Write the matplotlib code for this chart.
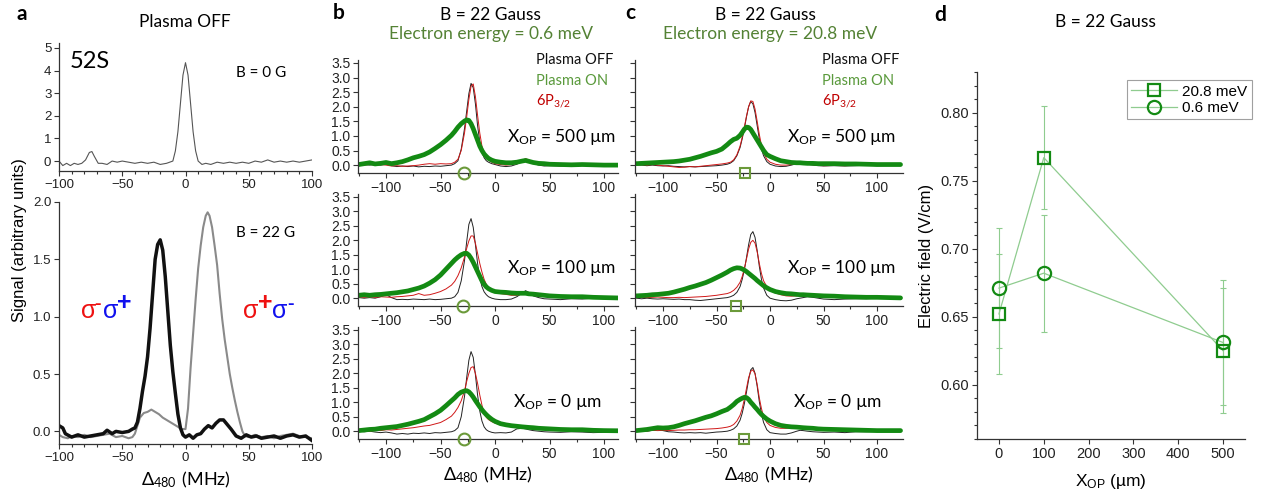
import numpy as np
import matplotlib
matplotlib.use("Agg")
import matplotlib.pyplot as plt
from matplotlib.ticker import MultipleLocator, FormatStrFormatter
from matplotlib.lines import Line2D

plt.rcParams['font.family'] = ['Liberation Sans', 'DejaVu Sans']
plt.rcParams['mathtext.default'] = 'regular'
CAL = ['Lato', 'DejaVu Sans']

# ---- panel a : 52S, plasma off ----
a0_x = [-100, -97, -94, -91, -88, -85, -82, -79, -76, -74, -72, -69, -66, -62, -58, -54, -50, -45,
        -40, -35, -30, -25, -20, -15, -10, -8, -6, -4, -2, 0, 2, 4, 6, 8, 10, 13, 16, 20, 25, 30,
        35, 40, 45, 50, 55, 60, 65, 70, 75, 80, 85, 90, 95, 100]
a0_y = [0.0, -0.2, -0.1, -0.2, -0.1, -0.15, -0.1, 0.05, 0.38, 0.42, 0.2, -0.1, -0.1, -0.15, 0.0,
        -0.05, 0.0, -0.05, -0.1, -0.05, -0.1, -0.05, -0.15, -0.1, 0.0, 0.45, 1.3, 2.55, 3.8, 4.35,
        3.8, 2.55, 1.3, 0.45, 0.0, -0.15, -0.1, -0.15, -0.05, -0.1, -0.05, -0.1, -0.05, -0.1, 0.0,
        -0.05, 0.05, -0.05, 0.0, -0.05, 0.0, -0.05, 0.0, 0.05]

a1_x_black = [-100, -97, -95, -90, -85, -80, -75, -70, -65, -62, -58, -55, -50, -45, -42, -40, -38,
              -36, -34, -32, -30, -28, -26, -24, -22, -20, -18, -16, -14, -12, -10, -8, -6, -4, -2,
              0, 3, 6, 9, 12, 15, 18, 21, 24, 27, 30, 33, 36, 40, 44, 48, 52, 56, 60, 65, 70, 75,
              80, 85, 90, 95, 100]
a1_y_black = [0.05, 0.03, -0.02, -0.05, -0.03, -0.05, -0.04, -0.03, -0.02, 0.01, -0.02, 0.0, -0.01,
              0.0, 0.02, 0.03, 0.08, 0.2, 0.35, 0.48, 0.65, 0.9, 1.2, 1.5, 1.63, 1.67, 1.58, 1.35,
              1.05, 0.75, 0.52, 0.33, 0.15, 0.03, -0.03, -0.05, -0.03, -0.06, -0.03, -0.02, 0.02,
              0.05, 0.03, 0.07, 0.1, 0.1, 0.06, 0.02, -0.04, -0.06, -0.03, -0.05, -0.04, -0.06,
              -0.05, -0.04, -0.06, -0.04, -0.03, -0.05, -0.04, -0.08]
a1_x_gray = [-100, -97, -93, -90, -85, -80, -75, -70, -65, -60, -55, -50, -45, -42, -40, -38, -36,
             -33, -30, -27, -24, -21, -18, -15, -12, -9, -6, -3, 0, 2, 4, 6, 8, 10, 12, 14, 16,
             17.5, 19, 21, 23, 25, 27, 29, 31, 33, 35, 37, 39, 41, 43, 45, 47, 50, 55, 60, 65, 70,
             75, 80, 85, 90, 95, 100]
a1_y_gray = [-0.03, -0.05, -0.06, -0.04, -0.05, -0.03, -0.05, -0.04, -0.03, -0.02, -0.05, -0.04,
             -0.06, -0.05, -0.02, 0.05, 0.12, 0.16, 0.17, 0.19, 0.17, 0.15, 0.12, 0.1, 0.08, 0.06,
             0.04, 0.02, 0.02, 0.2, 0.55, 0.85, 1.15, 1.42, 1.62, 1.78, 1.88, 1.91, 1.88, 1.78,
             1.62, 1.45, 1.2, 0.98, 0.8, 0.65, 0.5, 0.38, 0.27, 0.17, 0.08, 0.0, -0.04, -0.05,
             -0.03, -0.05, -0.04, -0.06, -0.04, -0.03, -0.02, -0.04, -0.05, -0.06]

# ---- panels b, c : detuning grid shared by all traces ----
F = [-125, -120, -115, -110, -105, -100, -95, -90, -85, -80, -75, -70, -65, -60, -55, -50, -45, -40,
     -37, -34, -31, -28, -26, -24, -22, -20, -18, -16, -14, -12, -10, -8, -6, -3, 0, 5, 10, 15, 20,
     25, 28, 31, 35, 40, 45, 50, 60, 70, 80, 90, 100, 122]

# electron energy 0.6 meV
b500_off = [0.0, 0.02, 0.0, 0.03, 0.0, 0.04, -0.02, -0.05, -0.03, -0.05, -0.03, -0.06, -0.04, -0.05, -0.03, -0.04, -0.02, 0.0, 0.05, 0.15,
            0.55, 1.25, 1.85, 2.45, 2.8, 2.65, 2.1, 1.35, 0.8, 0.45, 0.25, 0.15, 0.1, 0.05, 0.02, -0.03, -0.05, -0.03, 0.03, 0.14,
            0.2, 0.15, 0.06, 0.0, -0.03, -0.02, -0.03, -0.02, 0.0, -0.02, 0.0, 0.0]
b500_6p = [0.02, 0.0, 0.03, 0.0, 0.02, 0.0, -0.03, -0.02, -0.04, -0.03, -0.02, 0.0, 0.03, 0.05, 0.03, 0.05, 0.04, 0.05, 0.1, 0.2,
           0.5, 1.1, 1.65, 2.25, 2.7, 2.78, 2.35, 1.7, 1.1, 0.65, 0.4, 0.25, 0.17, 0.1, 0.05, 0.02, 0.0, 0.02, 0.06, 0.16,
           0.22, 0.18, 0.08, 0.03, 0.0, 0.0, -0.02, 0.0, 0.0, -0.02, 0.0, 0.0]
b500_on = [0.02, 0.05, 0.08, 0.04, 0.06, 0.09, 0.05, 0.08, 0.12, 0.18, 0.25, 0.3, 0.36, 0.45, 0.57, 0.7, 0.85, 1.02, 1.15, 1.3,
           1.42, 1.51, 1.55, 1.53, 1.42, 1.25, 1.05, 0.85, 0.65, 0.5, 0.38, 0.3, 0.23, 0.17, 0.13, 0.1, 0.08, 0.08, 0.1, 0.14,
           0.16, 0.13, 0.09, 0.06, 0.05, 0.03, 0.02, 0.01, 0.02, 0.01, 0.0, 0.0]
b100_off = [0.02, 0.0, 0.02, 0.0, 0.05, 0.12, 0.02, -0.05, -0.04, -0.05, -0.03, -0.04, -0.05, -0.03, -0.05, -0.04, -0.02, 0.0, 0.05, 0.2,
            0.6, 1.3, 1.95, 2.55, 2.75, 2.45, 1.85, 1.2, 0.7, 0.4, 0.22, 0.12, 0.05, 0.0, -0.03, -0.05, -0.05, -0.03, 0.05, 0.18,
            0.26, 0.2, 0.08, 0.02, -0.02, -0.03, -0.05, -0.02, -0.03, 0.0, -0.02, 0.0]
b100_6p = [0.05, 0.03, 0.05, 0.03, 0.05, 0.04, 0.03, 0.05, 0.06, 0.08, 0.1, 0.16, 0.1, 0.12, 0.17, 0.23, 0.32, 0.45, 0.58, 0.78,
           1.05, 1.42, 1.72, 1.98, 2.15, 2.15, 1.9, 1.55, 1.2, 0.9, 0.65, 0.48, 0.38, 0.28, 0.22, 0.16, 0.13, 0.1, 0.1, 0.15,
           0.2, 0.17, 0.12, 0.09, 0.07, 0.06, 0.05, 0.04, 0.03, 0.02, 0.01, 0.0]
b100_on = [0.1, 0.12, 0.1, 0.12, 0.13, 0.15, 0.17, 0.19, 0.22, 0.25, 0.3, 0.35, 0.42, 0.52, 0.64, 0.8, 1.0, 1.2, 1.32, 1.42,
           1.5, 1.55, 1.55, 1.49, 1.38, 1.24, 1.08, 0.92, 0.76, 0.6, 0.48, 0.39, 0.33, 0.27, 0.23, 0.21, 0.2, 0.18, 0.17, 0.17,
           0.17, 0.15, 0.14, 0.12, 0.1, 0.08, 0.06, 0.05, 0.05, 0.03, 0.02, 0.0]
b0_off = [0.0, -0.02, 0.0, -0.03, -0.05, -0.03, -0.06, -0.1, -0.08, -0.1, -0.07, -0.08, -0.06, -0.08, -0.05, -0.06, -0.04, -0.02, 0.02, 0.12,
          0.5, 1.2, 1.85, 2.45, 2.75, 2.55, 1.95, 1.25, 0.7, 0.35, 0.15, 0.05, 0.0, -0.04, -0.06, -0.05, -0.06, -0.03, 0.08, 0.1,
          0.08, 0.05, 0.02, 0.0, -0.02, -0.03, -0.04, -0.02, -0.03, -0.05, -0.04, -0.05]
b0_6p = [0.0, 0.02, 0.0, 0.03, 0.02, 0.05, 0.04, 0.06, 0.08, 0.1, 0.12, 0.15, 0.18, 0.2, 0.25, 0.3, 0.4, 0.52, 0.65, 0.82,
         1.05, 1.4, 1.72, 2.0, 2.2, 2.23, 2.0, 1.65, 1.25, 0.9, 0.62, 0.48, 0.4, 0.33, 0.28, 0.22, 0.2, 0.18, 0.17, 0.16,
         0.15, 0.13, 0.12, 0.1, 0.08, 0.07, 0.05, 0.04, 0.03, 0.02, 0.01, 0.0]
b0_on = [0.02, 0.04, 0.06, 0.07, 0.1, 0.12, 0.14, 0.16, 0.2, 0.24, 0.29, 0.34, 0.4, 0.5, 0.6, 0.72, 0.88, 1.05, 1.15, 1.27,
         1.35, 1.39, 1.4, 1.36, 1.28, 1.18, 1.06, 0.95, 0.84, 0.74, 0.65, 0.57, 0.5, 0.41, 0.34, 0.26, 0.22, 0.19, 0.17, 0.15,
         0.14, 0.13, 0.12, 0.1, 0.09, 0.08, 0.06, 0.05, 0.05, 0.03, 0.02, 0.01]

# electron energy 20.8 meV
c500_off = [0.0, 0.0, -0.02, 0.0, -0.02, -0.03, -0.02, -0.04, -0.05, -0.06, -0.05, -0.06, -0.05, -0.04, -0.03, -0.02, 0.0, 0.03, 0.07, 0.15,
            0.32, 0.6, 0.9, 1.25, 1.65, 2.0, 2.18, 2.1, 1.8, 1.35, 0.9, 0.55, 0.32, 0.12, 0.03, -0.03, -0.05, -0.04, 0.0, 0.05,
            0.07, 0.06, 0.03, 0.0, -0.02, -0.03, -0.02, -0.03, -0.02, 0.0, -0.02, 0.0]
c500_6p = [0.0, 0.02, 0.0, 0.02, 0.0, -0.02, -0.04, -0.06, -0.08, -0.07, -0.05, -0.06, -0.04, -0.02, 0.0, 0.02, 0.04, 0.07, 0.1, 0.18,
           0.35, 0.65, 0.95, 1.3, 1.68, 2.0, 2.2, 2.18, 1.92, 1.5, 1.05, 0.68, 0.42, 0.2, 0.1, 0.03, 0.0, 0.0, 0.02, 0.06,
           0.08, 0.07, 0.05, 0.02, 0.0, -0.02, -0.01, -0.02, 0.0, -0.01, 0.0, 0.0]
c500_on = [0.05, 0.06, 0.07, 0.08, 0.09, 0.1, 0.11, 0.12, 0.14, 0.17, 0.2, 0.25, 0.3, 0.36, 0.42, 0.47, 0.55, 0.7, 0.8, 0.88,
           0.92, 1.02, 1.12, 1.23, 1.3, 1.29, 1.22, 1.1, 0.98, 0.86, 0.74, 0.62, 0.5, 0.36, 0.3, 0.22, 0.15, 0.12, 0.09, 0.08,
           0.08, 0.07, 0.06, 0.06, 0.05, 0.05, 0.05, 0.04, 0.04, 0.03, 0.02, 0.02]
c100_off = [0.0, -0.02, 0.0, -0.02, -0.03, -0.02, -0.03, -0.04, -0.03, -0.05, -0.05, -0.07, -0.08, -0.06, -0.04, -0.02, 0.0, 0.02, 0.05, 0.1,
            0.2, 0.4, 0.65, 0.98, 1.4, 1.85, 2.2, 2.3, 2.1, 1.65, 1.1, 0.65, 0.35, 0.1, 0.0, -0.05, -0.08, -0.09, -0.07, -0.02,
            0.0, 0.02, 0.05, 0.03, 0.0, -0.03, -0.05, -0.03, -0.02, -0.02, 0.0, 0.0]
c100_6p = [0.02, 0.03, 0.02, 0.03, 0.04, 0.03, 0.02, 0.02, 0.03, 0.02, 0.03, 0.04, 0.05, 0.06, 0.08, 0.1, 0.13, 0.16, 0.2, 0.27,
           0.38, 0.55, 0.75, 1.02, 1.35, 1.7, 1.93, 2.0, 1.9, 1.6, 1.2, 0.85, 0.6, 0.4, 0.28, 0.18, 0.12, 0.08, 0.07, 0.08,
           0.1, 0.12, 0.13, 0.1, 0.07, 0.05, 0.03, 0.02, 0.02, 0.01, 0.0, 0.0]
c100_on = [0.08, 0.09, 0.1, 0.12, 0.13, 0.15, 0.17, 0.21, 0.26, 0.31, 0.37, 0.42, 0.48, 0.54, 0.62, 0.71, 0.8, 0.9, 0.97, 1.02,
           1.05, 1.04, 1.01, 0.97, 0.92, 0.86, 0.8, 0.74, 0.68, 0.61, 0.55, 0.49, 0.43, 0.36, 0.3, 0.23, 0.19, 0.16, 0.15, 0.13,
           0.12, 0.12, 0.11, 0.1, 0.09, 0.08, 0.07, 0.05, 0.04, 0.03, 0.03, 0.01]
c0_off = [0.0, 0.02, 0.0, 0.03, 0.05, 0.02, -0.02, -0.03, -0.05, -0.06, -0.05, -0.06, -0.05, -0.07, -0.05, -0.03, -0.02, 0.0, 0.03, 0.08,
          0.18, 0.38, 0.62, 0.95, 1.35, 1.78, 2.12, 2.2, 2.0, 1.55, 1.02, 0.6, 0.3, 0.05, -0.05, -0.08, -0.1, -0.1, -0.06, 0.0,
          0.03, 0.02, 0.0, -0.02, -0.03, -0.04, -0.03, -0.05, -0.02, -0.02, -0.01, 0.0]
c0_6p = [0.0, 0.02, 0.01, 0.03, 0.02, 0.03, 0.02, 0.03, 0.04, 0.04, 0.05, 0.05, 0.06, 0.07, 0.08, 0.09, 0.11, 0.14, 0.17, 0.23,
         0.35, 0.55, 0.78, 1.1, 1.48, 1.85, 2.07, 2.12, 1.98, 1.62, 1.15, 0.78, 0.5, 0.3, 0.2, 0.13, 0.1, 0.1, 0.11, 0.13,
         0.15, 0.14, 0.11, 0.08, 0.06, 0.05, 0.03, 0.02, 0.01, 0.01, 0.0, 0.0]
c0_on = [0.02, 0.04, 0.06, 0.09, 0.12, 0.11, 0.12, 0.15, 0.2, 0.26, 0.31, 0.36, 0.42, 0.48, 0.53, 0.6, 0.68, 0.75, 0.83, 0.92,
         1.03, 1.1, 1.14, 1.17, 1.16, 1.1, 1.0, 0.92, 0.83, 0.75, 0.66, 0.58, 0.51, 0.42, 0.35, 0.26, 0.2, 0.17, 0.15, 0.14,
         0.13, 0.12, 0.11, 0.1, 0.08, 0.07, 0.06, 0.05, 0.04, 0.03, 0.02, 0.02]

# fitted line centres (open markers on the axis), rows: X_OP = 500, 100, 0
b_centres = [-28.5, -29.0, -28.5]
c_centres = [-23.5, -32.0, -24.0]
xop_labels = ["500", "100", "0"]

# ---- panel d : electric field ----
xop = [0, 100, 500]
E_208 = [0.652, 0.767, 0.625]
E_208_err = [0.044, 0.038, 0.046]
E_06 = [0.671, 0.682, 0.631]
E_06_err = [0.044, 0.043, 0.046]

GREEN = '#138a13'
OLIVE = '#548235'
LEG_GREEN = '#5a9a3c'
LIGHT = '#8fcc8f'
RED = '#d01818'
S_RED = '#ee1111'
S_BLUE = '#1111ee'

W, H = 1263, 499
fig = plt.figure(figsize=(W / 100, H / 100), dpi=100)


def box(x0, y0, x1, y1):
    return [x0 / W, 1 - y1 / H, (x1 - x0) / W, (y1 - y0) / H]


def ftext(x, y, s, **kw):
    fig.text(x / W, 1 - y / H, s, **kw)


def style(ax, size=9.5):
    for s in ['top', 'right']:
        ax.spines[s].set_visible(False)
    for s in ['left', 'bottom']:
        ax.spines[s].set_color('#333333')
        ax.spines[s].set_linewidth(0.9)
    ax.tick_params(which='both', direction='out', colors='#333333', labelcolor='#222222',
                   labelsize=size, width=0.8, pad=2)
    ax.tick_params(which='major', length=3.5)
    ax.tick_params(which='minor', length=2)


# panel a
axa0 = fig.add_axes(box(59, 43, 312, 171))
style(axa0)
axa0.plot(a0_x, a0_y, color='#555555', lw=0.8)
axa0.set_xlim(-100, 100)
axa0.set_ylim(-0.44, 5.22)
axa0.xaxis.set_major_locator(MultipleLocator(50))
axa0.xaxis.set_minor_locator(MultipleLocator(10))
axa0.yaxis.set_major_locator(MultipleLocator(1))
axa0.text(-91.5, 4.38, '52S', fontsize=17, family=CAL, va='center')
axa0.text(40, 3.9, 'B = 0 G', fontsize=11, family=CAL, va='center')

axa1 = fig.add_axes(box(59, 202, 312, 444))
style(axa1)
axa1.plot(a1_x_gray, a1_y_gray, color='#8a8a8a', lw=1.5)
axa1.plot(a1_x_black, a1_y_black, color='#111111', lw=2.5)
axa1.set_xlim(-100, 100)
axa1.set_ylim(-0.11, 2.0)
axa1.xaxis.set_major_locator(MultipleLocator(50))
axa1.xaxis.set_minor_locator(MultipleLocator(10))
axa1.yaxis.set_major_locator(MultipleLocator(0.5))
axa1.yaxis.set_major_formatter(FormatStrFormatter('%.1f'))
axa1.text(40, 1.73, 'B = 22 G', fontsize=11, family=CAL, va='center')
# polarisation labels: sigma glyphs with hand-placed superscripts
sig = dict(fontsize=18, va='baseline', ha='left')
sup = dict(va='center', ha='center', weight='bold')
axa1.text(-82.6, 0.99, 'σ', color=S_RED, **sig)
axa1.text(-69.2, 1.11, '-', color=S_RED, fontsize=14, **sup)
axa1.text(-65.5, 0.99, 'σ', color=S_BLUE, **sig)
axa1.text(-48.6, 1.12, '+', color=S_BLUE, fontsize=18, **sup)
axa1.text(45.5, 0.99, 'σ', color=S_RED, **sig)
axa1.text(62.8, 1.12, '+', color=S_RED, fontsize=18, **sup)
axa1.text(68.4, 0.99, 'σ', color=S_BLUE, **sig)
axa1.text(83.0, 1.11, '-', color=S_BLUE, fontsize=14, **sup)
axa1.set_xlabel(r'$\Delta\mathregular{_{480}\ (MHz)}$', fontsize=13, family=CAL, labelpad=4)

ftext(20, 240, 'Signal (arbitrary units)', fontsize=12, rotation=90, ha='center', va='center')
ftext(22, 14, 'a', fontsize=15, weight='bold', family=CAL, ha='center', va='center')
ftext(185, 22, 'Plasma OFF', fontsize=12.5, family=CAL, ha='center', va='center')

# panels b and c
rows = [(60, 173), (194, 306), (327, 439)]
b_sets = [(b500_off, b500_6p, b500_on), (b100_off, b100_6p, b100_on), (b0_off, b0_6p, b0_on)]
c_sets = [(c500_off, c500_6p, c500_on), (c100_off, c100_6p, c100_on), (c0_off, c0_6p, c0_on)]
panels = [
    dict(x0=358, x1=618, xlim=(-125.7, 112.8), sets=b_sets, centres=b_centres, marker='o', ms=8.5,
         labels=True, leg_x=536, xop_x=[507, 507, 513]),
    dict(x0=635, x1=903, xlim=(-126.2, 124.3), sets=c_sets, centres=c_centres, marker='s', ms=7,
         labels=False, leg_x=822, xop_x=[787, 787, 793]),
]
xop_y = [137, 268, 402]
for p in panels:
    for i, (y0, y1) in enumerate(rows):
        ax = fig.add_axes(box(p['x0'], y0, p['x1'], y1))
        style(ax, 10)
        off, p6, on = p['sets'][i]
        ax.plot(F, off, color='#222222', lw=0.7)
        ax.plot(F, p6, color=RED, lw=0.7)
        ax.plot(F, on, color=GREEN, lw=3.4, solid_capstyle='round')
        ax.set_xlim(*p['xlim'])
        ax.set_ylim(-0.27, 3.6)
        ax.plot([p['centres'][i]], [-0.27], marker=p['marker'], ms=p['ms'], mfc='none',
                mec='#6b9a3a', mew=1.5, clip_on=False, zorder=5)
        ax.xaxis.set_major_locator(MultipleLocator(50))
        ax.xaxis.set_minor_locator(MultipleLocator(25))
        ax.yaxis.set_major_locator(MultipleLocator(0.5))
        ax.yaxis.set_major_formatter(FormatStrFormatter('%.1f'))
        if not p['labels']:
            ax.tick_params(labelleft=False)
        ftext(p['xop_x'][i], xop_y[i],
              r'$\mathregular{X_{OP}}$ = ' + xop_labels[i] + ' µm',
              fontsize=12.5, family=CAL, va='center')
        if i == 2:
            ax.set_xlabel(r'$\Delta\mathregular{_{480}\ (MHz)}$', fontsize=13, family=CAL, labelpad=3)
    ftext(p['leg_x'], 60, 'Plasma OFF', fontsize=10.5, family=CAL, va='center', color='#111111')
    ftext(p['leg_x'], 81, 'Plasma ON', fontsize=10.5, family=CAL, va='center', color=LEG_GREEN)
    ftext(p['leg_x'], 101, r'6P$\mathregular{_{3/2}}$', fontsize=10.5, family=CAL, va='center', color='#c00000')

ftext(339, 13, 'b', fontsize=15, weight='bold', family=CAL, ha='center', va='center')
ftext(490, 15, 'B = 22 Gauss', fontsize=12.5, family=CAL, ha='center', va='center')
ftext(491, 34, 'Electron energy = 0.6 meV', fontsize=12.5, family=CAL, ha='center', va='center', color=OLIVE)
ftext(630, 13, 'c', fontsize=15, weight='bold', family=CAL, ha='center', va='center')
ftext(765, 15, 'B = 22 Gauss', fontsize=12.5, family=CAL, ha='center', va='center')
ftext(770, 34, 'Electron energy = 20.8 meV', fontsize=12.5, family=CAL, ha='center', va='center', color=OLIVE)

# panel d
axd = fig.add_axes(box(977, 72, 1245, 439))
style(axd, 10.5)
axd.errorbar(xop, E_208, yerr=E_208_err, fmt='none', ecolor=LIGHT, elinewidth=0.8, capsize=2.5, capthick=0.8)
axd.errorbar(xop, E_06, yerr=E_06_err, fmt='none', ecolor=LIGHT, elinewidth=0.8, capsize=2.5, capthick=0.8)
axd.plot(xop, E_208, color=LIGHT, lw=0.9, marker='s', ms=8.5, mfc='none', mec=GREEN, mew=1.6)
axd.plot(xop, E_06, color=LIGHT, lw=0.9, marker='o', ms=9.5, mfc='none', mec=GREEN, mew=1.6)
axd.set_xlim(-49, 549)
axd.set_ylim(0.56, 0.83)
axd.xaxis.set_major_locator(MultipleLocator(100))
axd.yaxis.set_major_locator(MultipleLocator(0.05))
axd.yaxis.set_minor_locator(MultipleLocator(0.01))
axd.yaxis.set_major_formatter(FormatStrFormatter('%.2f'))
axd.set_ylabel('Electric field (V/cm)', fontsize=12, labelpad=5)
axd.set_xlabel(r'$\mathregular{X_{OP}}$ (µm)', fontsize=12.5, labelpad=8)
handles = [Line2D([], [], color=LIGHT, lw=0.9, marker='s', ms=8.5, mfc='none', mec=GREEN, mew=1.6),
           Line2D([], [], color=LIGHT, lw=0.9, marker='o', ms=9.5, mfc='none', mec=GREEN, mew=1.6)]
leg = axd.legend(handles, ['20.8 meV', '0.6 meV'], loc='upper right', bbox_to_anchor=(1252 / W, 1 - 80 / H),
                 bbox_transform=fig.transFigure, fontsize=11, frameon=True, fancybox=False,
                 borderaxespad=0, handlelength=3.0, handletextpad=0.35, borderpad=0.3, labelspacing=0.15)
leg.get_frame().set_edgecolor('#888888')
leg.get_frame().set_linewidth(0.8)

ftext(940, 15, 'd', fontsize=15, weight='bold', family=CAL, ha='center', va='center')
ftext(1105, 22, 'B = 22 Gauss', fontsize=12.5, family=CAL, ha='center', va='center')

fig.savefig('out.png', dpi=100)
